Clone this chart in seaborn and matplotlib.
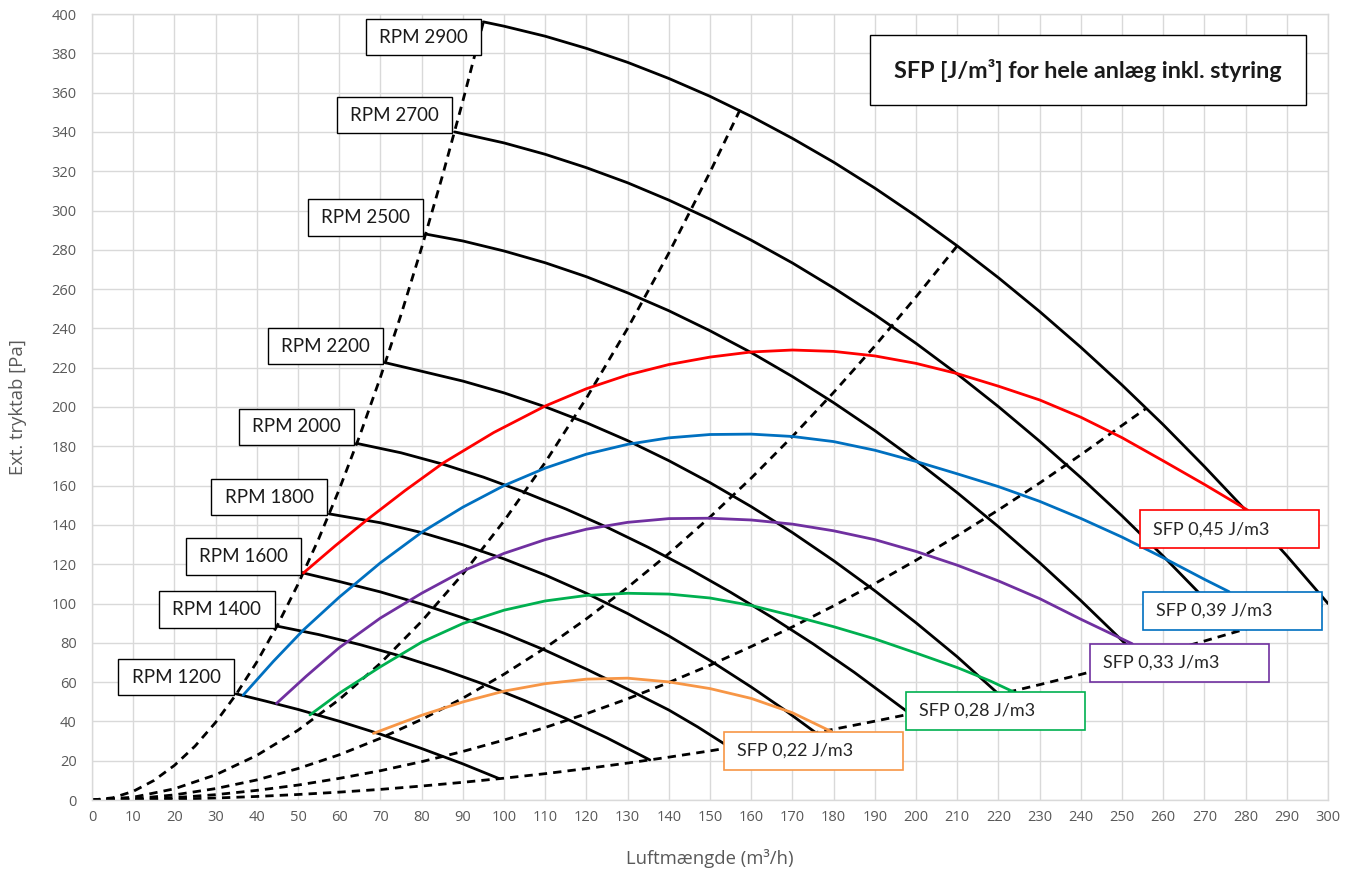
import matplotlib
matplotlib.use("Agg")
import matplotlib.pyplot as plt
from matplotlib.patches import Rectangle
import pandas as pd
import seaborn as sns

# Fan curves, one per RPM (flow m3/h, pressure Pa)
rpm_labels = ["RPM 1200", "RPM 1400", "RPM 1600", "RPM 1800", "RPM 2000",
              "RPM 2200", "RPM 2500", "RPM 2700", "RPM 2900"]
fan_flow = [
    [35.0, 42, 50, 60, 70, 80, 90, 98.8],
    [44.9, 55, 65, 75, 85, 95, 105, 115, 125, 135.4],
    [51.3, 60, 70, 80, 90, 100, 110, 120, 130, 140, 147, 154.8],
    [57.6, 70, 80, 90, 100, 110, 120, 130, 140, 150, 160, 168, 175.5],
    [64.2, 75, 85, 95, 105, 115, 125, 135, 145, 155, 165, 175, 185, 198.5],
    [71.3, 80, 90, 100, 110, 120, 130, 140, 150, 160, 170, 180, 190, 200, 210, 220],
    [81.0, 90, 100, 110, 120, 130, 140, 150, 160, 170, 180, 190, 200, 210, 220, 230,
     240, 247, 254.5],
    [88.0, 100, 110, 120, 130, 140, 150, 160, 170, 180, 190, 200, 210, 220, 230, 240,
     250, 260, 270, 277.5],
    [95.0, 100, 110, 120, 130, 140, 150, 160, 170, 180, 190, 200, 210, 220, 230, 240,
     250, 260, 270, 280, 290, 300],
]
fan_pressure = [
    [54.0, 50.4, 46.1, 40.1, 33.5, 26.2, 18.4, 10.9],
    [88.5, 84.2, 79.1, 73.2, 66.5, 59.0, 50.6, 41.5, 31.6, 20.4],
    [115.5, 111.2, 105.9, 99.7, 92.7, 84.9, 76.2, 66.6, 56.4, 45.8, 37.2, 26.8],
    [145.6, 141.1, 136.1, 129.9, 122.7, 114.5, 105.2, 94.9, 83.5, 71.0, 57.5, 46.0, 34.5],
    [181.5, 176.7, 171.0, 164.3, 156.6, 148.1, 138.8, 128.6, 117.6, 105.7, 93.0, 79.5,
     65.0, 44.0],
    [222.5, 218.2, 213.2, 207.2, 200.1, 192.0, 182.9, 172.7, 161.5, 149.3, 136.1, 121.8,
     106.5, 90.2, 72.9, 54.0],
    [288.0, 284.5, 279.4, 273.4, 266.3, 258.1, 249.0, 238.8, 227.7, 215.5, 202.2, 188.0,
     172.7, 156.4, 139.1, 120.8, 101.5, 87.3, 72.0],
    [340.0, 334.4, 328.6, 321.8, 314.1, 305.3, 295.6, 284.9, 273.3, 260.6, 247.0, 232.4,
     216.8, 200.2, 182.6, 164.1, 144.6, 124.1, 102.6, 86.0],
    [396.0, 393.8, 388.7, 382.5, 375.4, 367.2, 358.1, 347.9, 336.7, 324.6, 311.4, 297.2,
     282.0, 265.8, 248.6, 230.4, 211.2, 191.0, 169.7, 147.5, 124.3, 100.0],
]

# System curves (dashed), from the origin
system_names = ["sys A", "sys B", "sys C", "sys D", "sys E"]
system_flow = [
    [0, 5, 10, 15, 20, 25, 30, 35, 40, 45, 50, 55, 60, 65, 70, 75, 80, 85, 90, 95],
    [0, 10, 20, 30, 40, 50, 60, 70, 80, 90, 100, 110, 120, 130, 140, 150, 157.3],
    [0, 10, 20, 30, 40, 50, 60, 70, 80, 90, 100, 110, 120, 130, 140, 150, 160, 170,
     180, 190, 200, 210],
    [0, 10, 20, 30, 40, 50, 60, 70, 80, 90, 100, 110, 120, 130, 140, 150, 160, 170,
     180, 190, 200, 210, 220, 230, 240, 250, 256],
    [0, 10, 20, 30, 40, 50, 60, 70, 80, 90, 100, 110, 120, 130, 140, 150, 160, 170,
     180, 190, 200, 210, 220, 230, 240, 250, 260, 270, 280, 290, 300],
]
system_pressure = [
    [0, 1.1, 4.4, 9.9, 17.6, 27.4, 39.5, 53.8, 70.2, 88.9, 109.8, 132.8, 158.0, 185.5,
     215.1, 246.9, 281.0, 317.2, 355.6, 396.0],
    [0, 1.4, 5.7, 12.8, 22.7, 35.5, 51.1, 69.6, 90.9, 115.0, 142.0, 171.8, 204.5, 240.0,
     278.3, 319.5, 351.3],
    [0, 0.6, 2.6, 5.8, 10.2, 16.0, 23.0, 31.4, 41.0, 51.8, 64.0, 77.4, 92.2, 108.2,
     125.4, 144.0, 163.8, 185.0, 207.4, 231.0, 256.0, 282.0],
    [0, 0.3, 1.2, 2.7, 4.9, 7.6, 11.0, 14.9, 19.5, 24.7, 30.5, 36.9, 43.9, 51.5, 59.8,
     68.6, 78.1, 88.1, 98.8, 110.1, 122.0, 134.5, 147.6, 161.3, 175.7, 190.6, 199.5],
    [0, 0.1, 0.4, 1.0, 1.8, 2.8, 4.0, 5.4, 7.1, 9.0, 11.1, 13.4, 16.0, 18.8, 21.8, 25.0,
     28.4, 32.1, 36.0, 40.1, 44.4, 49.0, 53.7, 58.7, 63.9, 69.4, 75.0, 80.9, 87.0, 93.4,
     100.0],
]

# SFP iso-curves
sfp_labels = ["SFP 0,45 J/m3", "SFP 0,39 J/m3", "SFP 0,33 J/m3",
              "SFP 0,28 J/m3", "SFP 0,22 J/m3"]
sfp_colors = ["#FF0000", "#0070C0", "#7030A0", "#00B050", "#F79646"]
sfp_flow = [
    [51.3, 59, 66.7, 76, 85.3, 97.5, 110, 120, 130, 140, 150, 160, 170, 180, 190, 200,
     210, 220, 230, 240, 250, 260, 270, 280.5],
    [36.7, 44, 51.3, 60, 70, 80, 90, 100, 110, 120, 130, 140, 150, 160, 170, 180, 190,
     200, 210, 220, 230, 240, 250, 260, 270, 276],
    [44.8, 52, 60, 70, 80, 90, 100, 110, 120, 130, 140, 150, 160, 170, 180, 190, 200,
     210, 220, 230, 240, 252.5],
    [52.9, 60, 70, 80, 90, 100, 110, 120, 130, 140, 150, 160, 170, 180, 190, 200, 210,
     218, 223.6],
    [68.3, 75, 80, 90, 100, 110, 120, 130, 140, 150, 160, 170, 179.5],
]
sfp_pressure = [
    [115.5, 129.3, 142.5, 157.5, 171.6, 187.0, 200.5, 209.3, 216.3, 221.6, 225.4, 228.0,
     229.0, 228.3, 226.0, 222.2, 217.0, 210.6, 203.6, 194.8, 184.4, 172.6, 160.6, 147.5],
    [53.4, 70.5, 86.5, 103.2, 120.7, 136.2, 149.0, 160.0, 168.9, 176.0, 181.0, 184.3,
     186.0, 186.2, 185.0, 182.4, 178.0, 172.3, 166.0, 159.5, 152.0, 143.3, 133.8, 123.3,
     112.3, 106.0],
    [49.2, 63.0, 77.5, 92.6, 105.2, 116.5, 125.5, 132.5, 137.8, 141.3, 143.2, 143.4,
     142.5, 140.4, 137.0, 132.5, 126.5, 119.5, 111.5, 102.5, 92.0, 79.5],
    [43.3, 54.3, 67.8, 80.3, 89.8, 96.6, 101.3, 104.1, 105.2, 104.8, 102.8, 99.0, 93.8,
     88.2, 82.0, 74.8, 67.4, 60.6, 55.1],
    [33.9, 39.2, 43.1, 49.9, 55.4, 59.2, 61.5, 62.0, 60.1, 56.7, 51.7, 44.4, 34.8],
]

x_ticks = list(range(0, 301, 10))
y_ticks = list(range(0, 401, 20))

title_text = "SFP [J/m³] for hele anlæg inkl. styring"

# label box layout (data units)
sfp_box_dx = [-26.1, -20.9, -10.3, -26.0, -26.1]


def long_form(names, flows, pressures):
    """Stack a set of curves into one long DataFrame."""
    frames = [pd.DataFrame({"curve": n, "flow": f, "pressure": p})
              for n, f, p in zip(names, flows, pressures)]
    return pd.concat(frames, ignore_index=True)


fan_df = long_form(rpm_labels, fan_flow, fan_pressure)
sys_df = long_form(system_names, system_flow, system_pressure)
sfp_df = long_form(sfp_labels, sfp_flow, sfp_pressure)

sns.set_theme(style="white")
plt.rcParams["font.family"] = ["Open Sans", "DejaVu Sans"]
plt.rcParams["lines.dashed_pattern"] = [3.0, 2.2]
plt.rcParams["lines.solid_capstyle"] = "round"
plt.rcParams["lines.solid_joinstyle"] = "round"

grey = "#595959"
fig = plt.figure(figsize=(13.58, 8.75), dpi=100)
ax = fig.add_axes([92 / 1358, 75 / 875, 1236 / 1358, 786 / 875])

sns.lineplot(data=sys_df, x="flow", y="pressure", units="curve", estimator=None,
             sort=False, color="black", linewidth=2.0, linestyle="--", ax=ax, zorder=2)
sns.lineplot(data=fan_df, x="flow", y="pressure", units="curve", estimator=None,
             sort=False, color="black", linewidth=2.0, ax=ax, zorder=3)
sns.lineplot(data=sfp_df, x="flow", y="pressure", hue="curve", units="curve",
             estimator=None, sort=False, palette=dict(zip(sfp_labels, sfp_colors)),
             linewidth=2.0, legend=False, ax=ax, zorder=4)

ax.set_xlim(0, 300)
ax.set_ylim(0, 400)
ax.set_xticks(x_ticks)
ax.set_yticks(y_ticks)
ax.grid(True, color="#d9d9d9", linewidth=1.0, zorder=0)
ax.set_axisbelow(True)
for s in ax.spines.values():
    s.set_color("#d9d9d9")
    s.set_linewidth(1.0)
ax.tick_params(axis="both", length=0, labelsize=10.5, labelcolor=grey)
ax.tick_params(axis="y", pad=11)
ax.tick_params(axis="x", pad=7)
ax.set_xlabel("")
ax.set_ylabel("")

fig.text(710 / 1358, 1 - 858 / 875, "Luftmængde (m³/h)", ha="center", va="center",
         fontsize=13.3, color=grey)
fig.text(18 / 1358, 1 - 407 / 875, "Ext. tryktab [Pa]", ha="center", va="center",
         rotation=90, fontsize=13.3, color=grey)

label_font = ["Lato", "DejaVu Sans"]

# RPM boxes, bottom-right corner at the start of each fan curve
bw, bh = 28.0, 18.5
for i, lab in enumerate(rpm_labels):
    x0, y0 = fan_flow[i][0], fan_pressure[i][0]
    right = x0 - 0.6
    bottom = y0 - 0.8
    if i == len(rpm_labels) - 1:
        bottom = y0 + 1.5 - bh
    ax.add_patch(Rectangle((right - bw, bottom), bw, bh, facecolor="white",
                           edgecolor="black", linewidth=1.0, zorder=6))
    ax.text(right - bw / 2, bottom + bh / 2, lab, ha="center", va="center",
            fontsize=13.5, color="#1a1a1a", family=label_font, zorder=7)

# SFP boxes, top edge at the end of each SFP curve
sw, sh = 43.5, 19.5
for i, lab in enumerate(sfp_labels):
    xe, ye = sfp_flow[i][-1], sfp_pressure[i][-1]
    left = xe + sfp_box_dx[i]
    ax.add_patch(Rectangle((left, ye - sh), sw, sh, facecolor="white",
                           edgecolor=sfp_colors[i], linewidth=1.2, zorder=6))
    ax.text(left + 3.2, ye - sh / 2, lab, ha="left", va="center",
            fontsize=13, color="#262626", family=label_font, zorder=7)

# title box
ax.add_patch(Rectangle((188.8, 353.7), 105.9, 35.6, facecolor="white",
                       edgecolor="black", linewidth=1.0, zorder=6))
ax.text(241.75, 371.5, title_text, ha="center", va="center", fontsize=16.8,
        fontweight="bold", color="#1a1a1a", family=label_font, zorder=7)

fig.savefig("out.png", dpi=100)
